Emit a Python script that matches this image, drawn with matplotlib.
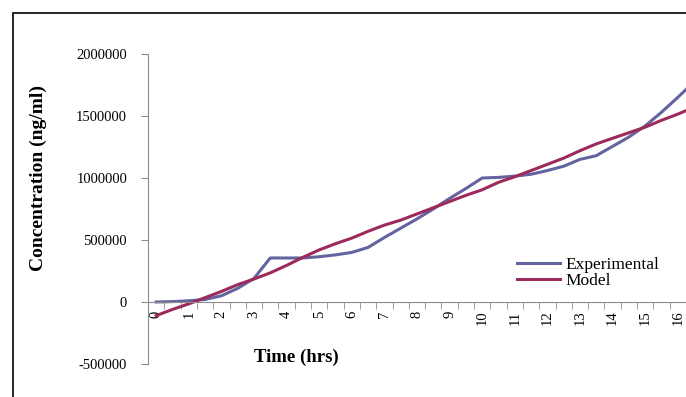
import matplotlib
matplotlib.use("Agg")
import matplotlib.pyplot as plt
from matplotlib.patches import Rectangle
from matplotlib.ticker import MultipleLocator, FixedLocator

# -----------------------------
# Data (sampled every half hour)
# -----------------------------
time_hrs = [0.0, 0.5, 1.0, 1.5, 2.0, 2.5, 3.0, 3.5, 4.0, 4.5, 5.0, 5.5,
            6.0, 6.5, 7.0, 7.5, 8.0, 8.5, 9.0, 9.5, 10.0, 10.5, 11.0, 11.5,
            12.0, 12.5, 13.0, 13.5, 14.0, 14.5, 15.0, 15.5, 16.0, 16.5]

experimental = [0, 3000, 10000, 20000, 50000, 110000, 190000, 355000,
                355000, 355000, 365000, 380000, 400000, 440000, 520000,
                595000, 670000, 750000, 835000, 915000, 1000000, 1005000,
                1015000, 1030000, 1060000, 1095000, 1150000, 1180000,
                1255000, 1330000, 1420000, 1530000, 1650000, 1775000]

model = [-110000, -60000, -15000, 35000, 85000, 140000, 185000, 235000,
         295000, 360000, 420000, 470000, 515000, 570000, 620000, 660000,
         710000, 760000, 810000, 860000, 905000, 965000, 1010000, 1060000,
         1110000, 1160000, 1220000, 1275000, 1320000, 1365000, 1410000,
         1465000, 1515000, 1570000]

y_ticks = [-500000, 0, 500000, 1000000, 1500000, 2000000]
x_labels = list(range(0, 17))

W, H = 686, 397
plt.rcParams['font.family'] = ['Liberation Serif', 'DejaVu Serif']

fig = plt.figure(figsize=(W / 100, H / 100), dpi=100)

# outer chart border (runs off the right / bottom of the image)
fig.patches.append(Rectangle((13 / W, -0.1), 1.2, 1 - 13 / H + 0.1,
                             transform=fig.transFigure, fill=False,
                             edgecolor='black', linewidth=1.2))

# plot area in pixels: left 148, top 54, bottom 364, runs past right edge
left, top, bottom = 148, 54, 364
cat_w = 16.3
right = left + 34 * cat_w
ax = fig.add_axes([left / W, 1 - bottom / H, (right - left) / W, (bottom - top) / H])

ax.plot(time_hrs, experimental, color='#63649F', lw=2.2, label='Experimental')
ax.plot(time_hrs, model, color='#9C2A5C', lw=2.2, label='Model')

ax.set_xlim(-0.25, 16.75)
ax.set_ylim(-500000, 2000000)

# axes styling
for s in ['top', 'right']:
    ax.spines[s].set_visible(False)
ax.spines['bottom'].set_position(('data', 0))
ax.spines['left'].set_color('#8c8c8c')
ax.spines['bottom'].set_color('#8c8c8c')

ax.yaxis.set_major_locator(FixedLocator(y_ticks))
ax.set_yticklabels([str(v) for v in y_ticks])
ax.tick_params(axis='y', direction='out', length=5, color='#8c8c8c',
               labelsize=10.5, pad=10)

ax.xaxis.set_major_locator(FixedLocator(x_labels))
ax.set_xticklabels([str(v) for v in x_labels], rotation=90)
ax.xaxis.set_minor_locator(MultipleLocator(0.5, offset=0.25))
ax.tick_params(axis='x', which='major', length=0, labelsize=10.5, pad=6)
ax.tick_params(axis='x', which='minor', direction='out', length=5,
               color='#8c8c8c')

fig.text(38 / W, 1 - 178 / H, 'Concentration (ng/ml)', rotation=90,
         ha='center', va='center', fontsize=14, fontweight='bold')
fig.text(296 / W, 1 - 357 / H, 'Time (hrs)', ha='center', va='center',
         fontsize=13.5, fontweight='bold')

ax.legend(loc='upper left', bbox_to_anchor=(517 / W, 1 - 257 / H),
          bbox_transform=fig.transFigure, frameon=False, fontsize=12.5,
          handlelength=2.5, handletextpad=0.3, labelspacing=0.0,
          borderpad=0, borderaxespad=0)

fig.savefig('out.png', dpi=100, facecolor='white')
